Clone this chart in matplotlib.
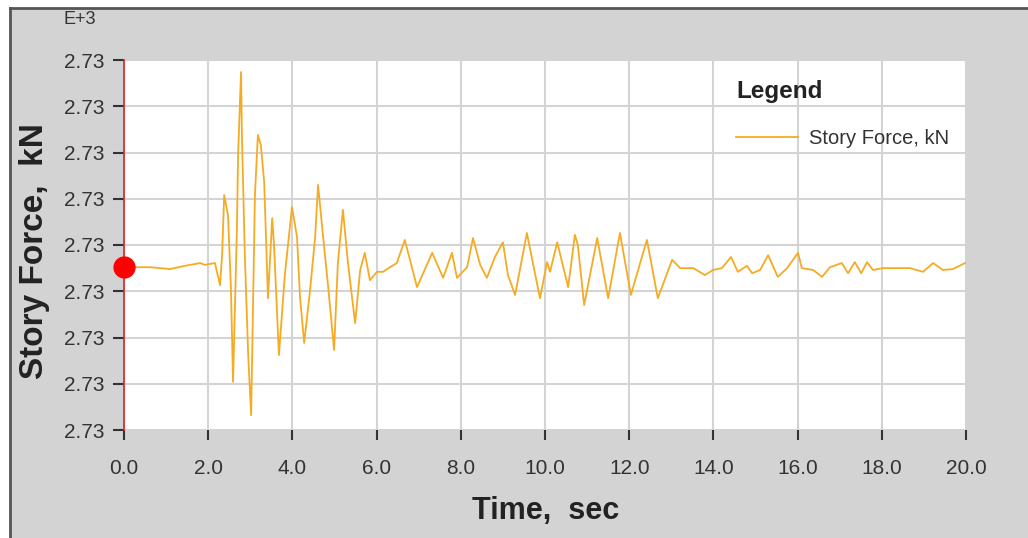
import matplotlib.pyplot as plt
from matplotlib.patches import Rectangle
from matplotlib.lines import Line2D

# time history (sec, kN)
time_s = [0.00, 0.62, 1.09, 1.45, 1.81, 1.92, 2.16, 2.28, 2.33, 2.38, 2.47, 2.54,
          2.59, 2.68, 2.71, 2.78, 2.80, 2.87, 2.95, 3.02, 3.11, 3.18, 3.25, 3.33,
          3.42, 3.52, 3.56, 3.68, 3.82, 3.99, 4.11, 4.18, 4.28, 4.42, 4.54, 4.61,
          4.73, 4.85, 4.99, 5.08, 5.20, 5.32, 5.49, 5.61, 5.72, 5.84, 6.01, 6.15,
          6.32, 6.48, 6.67, 6.96, 7.32, 7.58, 7.79, 7.91, 8.15, 8.29, 8.46, 8.62,
          8.81, 9.00, 9.12, 9.29, 9.57, 9.88, 10.05, 10.12, 10.29, 10.55, 10.71, 10.78,
          10.93, 11.24, 11.50, 11.78, 12.04, 12.42, 12.68, 13.02, 13.21, 13.52, 13.80, 13.99,
          14.20, 14.42, 14.58, 14.80, 14.92, 15.11, 15.30, 15.53, 15.75, 16.01, 16.10, 16.37,
          16.58, 16.77, 17.05, 17.20, 17.36, 17.51, 17.65, 17.79, 18.03, 18.36, 18.67, 18.98,
          19.22, 19.45, 19.69, 19.98]
force_kn = [2729.952, 2729.952, 2729.948, 2729.955, 2729.961, 2729.957, 2729.961, 2729.913,
            2729.978, 2730.108, 2730.065, 2729.907, 2729.704, 2730.028, 2730.195, 2730.374,
            2730.244, 2729.978, 2729.762, 2729.632, 2730.108, 2730.238, 2730.216, 2730.136,
            2729.885, 2730.058, 2730.006, 2729.762, 2729.935, 2730.082, 2730.017, 2729.888,
            2729.788, 2729.903, 2730.017, 2730.130, 2730.017, 2729.909, 2729.773, 2729.961,
            2730.076, 2729.961, 2729.831, 2729.946, 2729.983, 2729.924, 2729.942, 2729.942,
            2729.952, 2729.961, 2730.011, 2729.909, 2729.983, 2729.929, 2729.983, 2729.929,
            2729.952, 2730.015, 2729.957, 2729.929, 2729.974, 2730.006, 2729.935, 2729.892,
            2730.026, 2729.885, 2729.963, 2729.942, 2730.006, 2729.909, 2730.022, 2730.000,
            2729.870, 2730.015, 2729.885, 2730.026, 2729.892, 2730.011, 2729.885, 2729.968,
            2729.950, 2729.950, 2729.935, 2729.946, 2729.950, 2729.974, 2729.942, 2729.955,
            2729.939, 2729.946, 2729.978, 2729.931, 2729.950, 2729.983, 2729.950, 2729.946,
            2729.931, 2729.952, 2729.961, 2729.939, 2729.963, 2729.939, 2729.963, 2729.946,
            2729.950, 2729.950, 2729.950, 2729.942, 2729.961, 2729.946, 2729.948, 2729.961]

x_ticks = [0, 2, 4, 6, 8, 10, 12, 14, 16, 18, 20]
y_ticks = [2729.6, 2729.7, 2729.8, 2729.9, 2730.0, 2730.1, 2730.2, 2730.3, 2730.4]

plt.rcParams['font.family'] = ['Liberation Sans', 'DejaVu Sans']

W, H = 1028, 538
fig = plt.figure(figsize=(W / 100, H / 100), dpi=100, facecolor='white')

# grey panel with dark top/left border
fig.patches.append(Rectangle((10 / W, 0), 1 - 10 / W, 1 - 8 / H, transform=fig.transFigure,
                             facecolor='#d3d3d3', edgecolor='none', zorder=-5))
fig.lines.append(Line2D([10 / W, 10 / W], [0, 1 - 8 / H], transform=fig.transFigure,
                        color='#555555', lw=2))
fig.lines.append(Line2D([10 / W, 1], [1 - 8 / H, 1 - 8 / H], transform=fig.transFigure,
                        color='#555555', lw=2))

ax = fig.add_axes([124 / W, 1 - 430 / H, 842 / W, 370 / H])
ax.set_zorder(1)
ax.set_facecolor('white')

ax.plot(time_s, force_kn, color='#f6ab22', lw=1.3, label='Story Force, kN', zorder=3)
ax.plot([0], [force_kn[0]], 'o', color='#ff0000', ms=15, clip_on=False, zorder=5)

ax.set_xlim(0, 20)
ax.set_ylim(2729.6, 2730.4)
ax.set_xticks(x_ticks)
ax.set_xticklabels([f'{v:.1f}' for v in x_ticks])
ax.set_yticks(y_ticks)
ax.set_yticklabels([f'{v / 1000:.2f}' for v in y_ticks])
ax.grid(True, color='#d4d4d4', lw=1.5, zorder=1)
ax.set_axisbelow(True)

for s in ['top', 'right', 'bottom']:
    ax.spines[s].set_visible(False)
ax.spines['left'].set_color('#e02020')
ax.spines['left'].set_linewidth(1.2)

ax.tick_params(axis='y', direction='out', length=8, width=1.5, color='#333333',
               labelsize=15, labelcolor='#333333', pad=6)
ax.tick_params(axis='x', direction='out', length=7, width=1.5, color='#333333',
               labelsize=15, labelcolor='#333333', pad=14)

fig.text(80 / W, 1 - 19 / H, 'E+3', fontsize=13, color='#333333', ha='center', va='center')
fig.text(35 / W, 1 - 251 / H, 'Story Force,  kN', rotation=90, fontsize=24, fontweight='bold',
         color='#222222', ha='center', va='center')
fig.text(546 / W, 1 - 511 / H, 'Time,  sec', fontsize=22, fontweight='bold',
         color='#222222', ha='center', va='center')

leg = ax.legend(loc='upper left', bbox_to_anchor=(0.71, 0.985),
                frameon=False, title='Legend', fontsize=14.5, handlelength=3.1,
                handletextpad=0.55, alignment='left', borderaxespad=0.3, labelspacing=1.3)
leg.get_title().set_fontweight('bold')
leg.get_title().set_fontsize(17.5)
leg.get_title().set_color('#222222')
for t in leg.get_texts():
    t.set_color('#333333')

fig.savefig('out.png', dpi=100, facecolor=fig.get_facecolor())
